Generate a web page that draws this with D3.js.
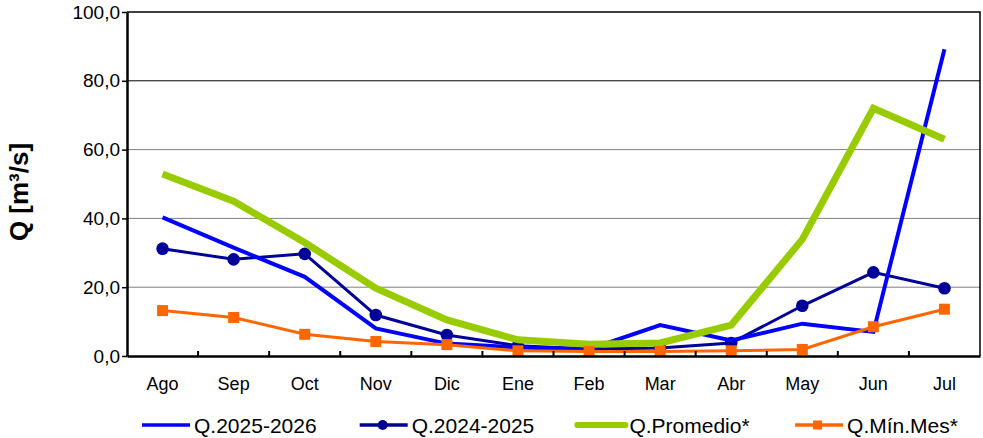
<!DOCTYPE html>
<html lang="es">
<head>
<meta charset="UTF-8">
<title>Caudales mensuales</title>
<script src="https://d3js.org/d3.v7.min.js"></script>
<style>
    body { margin: 0; background: #fff; }
    svg { display: block; font-family: "Liberation Sans", Arial, sans-serif; }
</style>
</head>
<body>
<div id="chart"></div>
<script>
// datos (m3/s)
const meses = ["Ago", "Sep", "Oct", "Nov", "Dic", "Ene", "Feb", "Mar", "Abr", "May", "Jun", "Jul"];
const q2025_2026 = [40.3, 31.5, 23.0, 8.0, 3.6, 2.5, 2.0, 9.0, 4.5, 9.4, 7.0, 89.2];
const q2024_2025 = [31.2, 28.1, 29.7, 11.9, 6.1, 3.0, 2.0, 2.3, 3.8, 14.6, 24.3, 19.7];
const qPromedio = [52.9, 45.0, 33.0, 19.7, 10.5, 4.7, 3.4, 3.8, 9.0, 33.9, 72.0, 63.0];
const qMinMes = [13.2, 11.2, 6.3, 4.2, 3.3, 1.5, 1.3, 1.3, 1.5, 1.9, 8.5, 13.6];
const yTicks = [0, 20, 40, 60, 80, 100];

const width = 983, height = 438;
const margin = { top: 12, right: 3, bottom: 82, left: 127 };
const x0 = margin.left, x1 = width - margin.right;
const y0 = height - margin.bottom, y1 = margin.top;

const svg = d3.select("#chart").append("svg")
    .attr("width", width)
    .attr("height", height);

const x = d3.scaleBand().domain(meses).range([x0, x1]).padding(0);
const y = d3.scaleLinear().domain([0, 100]).range([y0, y1]);
const cx = d => x(d) + x.bandwidth() / 2;
const fmt = d => d3.format(".1f")(d).replace(".", ",");

// lineas de grilla
svg.append("g").selectAll("line")
    .data(yTicks.filter(t => t > 0 && t < 100))
    .join("line")
    .attr("x1", x0).attr("x2", x1)
    .attr("y1", d => y(d)).attr("y2", d => y(d))
    .attr("stroke", d => d === 80 ? "#000" : "#808080")
    .attr("stroke-width", 1);

// marco superior y derecho
svg.append("path")
    .attr("d", `M${x0},${y1}H${x1}V${y0}`)
    .attr("fill", "none")
    .attr("stroke", "#000")
    .attr("stroke-width", 1.5);

// series (orden de dibujo como en el original)
const series = [
    { name: "Q.2024-2025", values: q2024_2025, color: "#000099", width: 3, marker: "circle" },
    { name: "Q.2025-2026", values: q2025_2026, color: "#0000ff", width: 4, marker: null },
    { name: "Q.Promedio*", values: qPromedio, color: "#99cc00", width: 7, marker: null },
    { name: "Q.Mín.Mes*", values: qMinMes, color: "#ff6600", width: 3, marker: "square" }
];
const legendOrder = ["Q.2025-2026", "Q.2024-2025", "Q.Promedio*", "Q.Mín.Mes*"];

const line = d3.line()
    .x((d, i) => cx(meses[i]))
    .y(d => y(d));

series.forEach(s => {
    const g = svg.append("g");
    g.append("path")
        .datum(s.values)
        .attr("d", line)
        .attr("fill", "none")
        .attr("stroke", s.color)
        .attr("stroke-width", s.width)
        .attr("stroke-linejoin", "miter");
    if (s.marker === "circle") {
        g.selectAll("circle")
            .data(s.values)
            .join("circle")
            .attr("cx", (d, i) => cx(meses[i]))
            .attr("cy", d => y(d))
            .attr("r", 6.3)
            .attr("fill", s.color);
    } else if (s.marker === "square") {
        g.selectAll("rect")
            .data(s.values)
            .join("rect")
            .attr("x", (d, i) => cx(meses[i]) - 5.5)
            .attr("y", d => y(d) - 5.5)
            .attr("width", 11).attr("height", 11)
            .attr("fill", s.color);
    }
});

// eje Y
const yAxis = svg.append("g")
    .attr("transform", `translate(${x0},0)`)
    .call(d3.axisLeft(y).tickValues(yTicks).tickFormat(fmt).tickSize(5).tickSizeOuter(0).tickPadding(2));
yAxis.select(".domain").attr("stroke-width", 2.5);
yAxis.selectAll(".tick line").attr("stroke-width", 1.5);
yAxis.selectAll("text").attr("font-size", 19).attr("fill", "#000")
    .attr("font-family", "Liberation Sans, Arial, sans-serif");

// eje X
const xAxis = svg.append("g")
    .attr("transform", `translate(0,${y0})`)
    .call(d3.axisBottom(x).tickSize(0).tickSizeOuter(0).tickPadding(21));
xAxis.select(".domain").attr("stroke-width", 2.5);
xAxis.selectAll("text").attr("font-size", 18).attr("fill", "#000")
    .attr("font-family", "Liberation Sans, Arial, sans-serif");
// marcas entre categorias
svg.append("g").selectAll("line")
    .data(meses.slice(1))
    .join("line")
    .attr("x1", d => x(d)).attr("x2", d => x(d))
    .attr("y1", y0).attr("y2", y0 - 5)
    .attr("stroke", "#000")
    .attr("stroke-width", 2);

// titulo eje Y
svg.append("text")
    .attr("transform", `translate(28,${(y0 + y1) / 2 + 8}) rotate(-90)`)
    .attr("text-anchor", "middle")
    .attr("font-size", 26)
    .attr("font-weight", "bold")
    .text("Q [m³/s]");

// leyenda
const legend = svg.append("g").attr("transform", "translate(142,425)");
legendOrder.forEach((name, i) => {
    const s = series.find(d => d.name === name);
    const g = legend.append("g").attr("transform", `translate(${i * 217.7},0)`);
    g.append("line")
        .attr("x1", 0).attr("x2", 48)
        .attr("stroke", s.color)
        .attr("stroke-width", s.width === 7 ? 6 : 3.5)
        .attr("stroke-linecap", s.width === 7 ? "round" : "butt");
    if (s.marker === "circle") {
        g.append("circle").attr("cx", 23).attr("r", 5).attr("fill", s.color);
    } else if (s.marker === "square") {
        g.append("rect").attr("x", 18).attr("y", -4.5).attr("width", 9).attr("height", 9).attr("fill", s.color);
    }
    g.append("text")
        .attr("x", 52)
        .attr("y", 7.5)
        .attr("font-size", 21)
        .attr("fill", "#000")
        .text(name);
});
</script>
</body>
</html>
